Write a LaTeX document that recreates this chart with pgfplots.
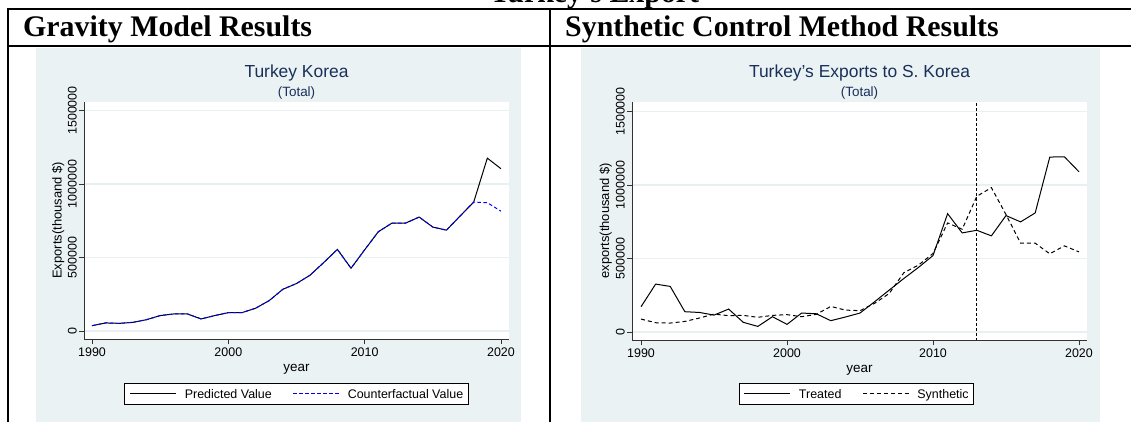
\documentclass[border=0pt]{standalone}
\usepackage{fontspec}
\setmainfont{Liberation Sans}
\newfontfamily\hdrfont{Liberation Serif}
\usepackage{pgfplots}
\pgfplotsset{compat=1.18}

\definecolor{stbg}{RGB}{234,242,243}
\definecolor{stgrid}{RGB}{232,240,242}
\definecolor{sttitle}{RGB}{26,47,90}

% Gravity model: predicted vs counterfactual exports (thousand $)
\pgfplotstableread{
year pred cf
1990 36000 36000
1991 55000 55000
1992 52000 52000
1993 59000 59000
1994 77000 77000
1995 105000 105000
1996 116000 116000
1997 116000 116000
1998 82000 82000
1999 105000 105000
2000 125000 125000
2001 125000 125000
2002 155000 155000
2003 207000 207000
2004 284000 284000
2005 323000 323000
2006 380000 380000
2007 466000 466000
2008 555000 555000
2009 427000 427000
2010 552000 552000
2011 675000 675000
2012 734000 734000
2013 734000 734000
2014 775000 775000
2015 707000 707000
2016 686000 686000
2017 782000 782000
2018 877000 877000
2019 1176000 873000
2020 1104000 815000
}\gravity

% Synthetic control: treated vs synthetic
\pgfplotstableread{
year treated synth
1990 172000 88000
1991 326000 63000
1992 310000 61000
1993 138000 72000
1994 133000 95000
1995 115000 122000
1996 156000 111000
1997 66000 113000
1998 38000 100000
1999 104000 113000
2000 52000 118000
2001 129000 104000
2002 124000 120000
2003 77000 174000
2004 102000 149000
2005 129000 145000
2006 206000 195000
2007 285000 262000
2008 364000 403000
2009 439000 455000
2010 520000 534000
2011 805000 742000
2012 674000 699000
2013 692000 923000
2014 654000 982000
2015 792000 799000
2016 749000 604000
2017 810000 604000
2018 1190000 532000
2019 1192000 586000
2020 1090000 545000
}\scm

\pgfplotsset{
  stata/.style={
    scale only axis,
    anchor=south west,
    axis background/.style={fill=white},
    axis x line*=bottom, axis y line*=left,
    axis line style={-, line width=0.9bp, draw=black!80},
    tick align=outside, major tick length=5bp,
    every tick/.style={line width=0.9bp, draw=black!80},
    xtick={1990,2000,2010,2020},
    ytick={0,500000,1000000,1500000},
    scaled ticks=false,
    /pgf/number format/fixed,
    /pgf/number format/1000 sep={},
    /pgf/number format/assume math mode=true,
    xticklabel style={font=\fontsize{12.5}{12.5}\selectfont},
    yticklabel style={font=\fontsize{12.5}{12.5}\selectfont, rotate=90, anchor=south, inner sep=2bp},
    ymajorgrids, grid style={stgrid, line width=1.2bp},
    xlabel={year},
    xlabel style={font=\fontsize{13.5}{13.5}\selectfont, at={(axis description cs:0.5,0)}, anchor=base, yshift=-32.7bp},
    ylabel style={font=\fontsize{13}{13}\selectfont, anchor=base},
    legend columns=2,
    legend style={draw=black, line width=0.8bp, fill=white,
      font=\fontsize{12.5}{12.5}\selectfont,
      inner xsep=5bp, inner ysep=6bp, column sep=8bp,
      nodes={inner sep=0bp, text height=8.9bp, text depth=0bp},
      /tikz/every even column/.append style={column sep=21bp}},
    legend image code/.code={\draw[#1] (0bp,0bp) -- (46bp,0bp);},
  },
}

\begin{document}
\begin{tikzpicture}
\useasboundingbox (0,0) rectangle (1131bp,422bp);
\fill[stbg] (36bp,0) rectangle (521bp,374bp);
\fill[stbg] (581bp,0) rectangle (1100bp,374bp);

\draw[line width=2bp] (8bp,413bp) -- (1131bp,413bp);
\draw[line width=2bp] (8bp,376bp) -- (1131bp,376bp);
\draw[line width=2bp] (8bp,414bp) -- (8bp,0);
\draw[line width=2bp] (550bp,414bp) -- (550bp,0);

\node[anchor=base west, inner sep=0, font=\hdrfont\bfseries\fontsize{30}{30}\selectfont] at (23bp,385bp) {Gravity Model Results};
\node[anchor=base west, inner sep=0, font=\hdrfont\bfseries\fontsize{30}{30}\selectfont] at (565bp,385bp) {Synthetic Control Method Results};
\node[anchor=base west, inner sep=0, font=\hdrfont\bfseries\fontsize{30}{30}\selectfont] at (490bp,419.5bp) {Turkey's Export};

\begin{axis}[stata, at={(84bp,83bp)}, width=425bp, height=237bp,
  xmin=1989.41, xmax=2020.59, ymin=-54400, ymax=1557800,
  ylabel={Exports(thousand \$)},
  ylabel style={at={(axis description cs:-0.0525,0.5)}},
  legend style={at={(axis description cs:0.5,-0.1857)}, anchor=north}]
\addplot[black, line width=1bp] table[x=year, y=pred] {\gravity};
\addplot[blue, line width=1bp, dash pattern=on 3.5bp off 2.5bp] table[x=year, y=cf] {\gravity};
\legend{Predicted Value, Counterfactual Value}
\end{axis}
\node[anchor=base, text=sttitle, font=\fontsize{17.5}{17.5}\selectfont] at (296.5bp,344.7bp) {Turkey Korea};
\node[anchor=base, text=sttitle, font=\fontsize{13.5}{13.5}\selectfont] at (296.5bp,325.5bp) {(Total)};

\begin{axis}[stata, at={(632bp,82bp)}, width=455bp, height=238bp,
  xmin=1989.38, xmax=2020.55, ymin=-54400, ymax=1564600,
  ylabel={exports(thousand \$)},
  ylabel style={at={(axis description cs:-0.0505,0.5)}},
  legend style={at={(axis description cs:0.493,-0.1807)}, anchor=north}]
\addplot[black, line width=1bp] table[x=year, y=treated] {\scm};
\addplot[black, line width=1bp, dash pattern=on 4bp off 3bp] table[x=year, y=synth] {\scm};
\addplot[black, line width=1bp, dash pattern=on 3bp off 2bp, forget plot] coordinates {(2013,-60000) (2013,1600000)};
\legend{Treated, Synthetic}
\end{axis}
\node[anchor=base, text=sttitle, font=\fontsize{17.5}{17.5}\selectfont] at (859.5bp,344.7bp) {Turkey's Exports to S. Korea};
\node[anchor=base, text=sttitle, font=\fontsize{13.5}{13.5}\selectfont] at (859.5bp,325.5bp) {(Total)};
\end{tikzpicture}
\end{document}
